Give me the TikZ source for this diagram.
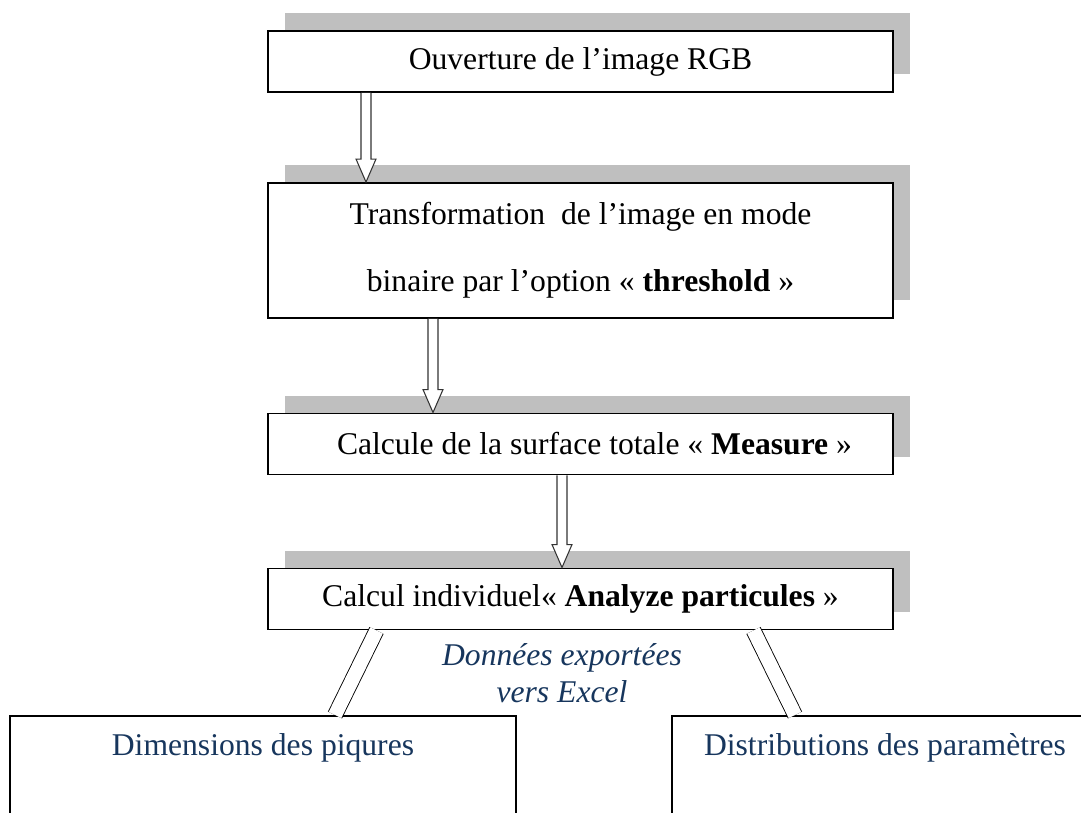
\documentclass[tikz,border=0pt]{standalone}
\usepackage{fontspec}
\setmainfont{Liberation Serif}
\usetikzlibrary{shadows,calc}
\definecolor{navy}{HTML}{17365D}

\begin{document}
\begin{tikzpicture}[nodes={font=\fontsize{18}{22}\selectfont},
    box/.style={draw,line width=1.1pt,fill=white,minimum width=12.5cm,minimum height=1.22cm,
      drop shadow={shadow xshift=0.34cm,shadow yshift=0.35cm,fill=gray!50,opacity=1}},
    bot/.style={draw,line width=1.1pt,text=navy,anchor=north,inner ysep=0.3cm,text height=0.5cm,text depth=2.5cm},
    hol/.style={line width=0.6pt,draw=black!80,fill=white,to path={let \p1=(\tikztostart),\p2=(\tikztotarget) in
      (\x1-0.1cm,\y1) -- (\x1-0.1cm,\y2+0.46cm) -- (\x1-0.2cm,\y2+0.46cm) -- (\x2,\y2)
      -- (\x1+0.2cm,\y2+0.46cm) -- (\x1+0.1cm,\y2+0.46cm) -- (\x1+0.1cm,\y1)}},
    dbl/.style={double,double distance=0.28cm,line width=0.5pt}]

      \clip (0,0) rectangle (21.62,-16.26);

      \node[box] (1) at (11.61,-1.23) {Ouverture de l’image RGB};
      \node[box,minimum height=2.7cm,align=center] (2) at (11.61,-5.01) {Transformation\ \ de l’image en mode\\[16pt]binaire par l’option « \textbf{threshold} »};
      \node[box] (3) at (11.61,-8.88) {\hspace*{0.56cm}Calcule de la surface totale « \textbf{Measure} »};
      \node[box] (4) at (11.61,-11.98) {Calcul individuel« \textbf{Analyze particules} »};
      \node[text=navy,align=center,font=\itshape\fontsize{18}{21}\selectfont] (5) at (11.24,-13.47) {Données exportées\\vers Excel};
      \node[bot,minimum width=10.12cm] (6) at (5.26,-14.3) {Dimensions des piqures};
      \node[bot,minimum width=8.52cm] (7) at (17.7,-14.3) {Distributions des paramètres};

      \draw[hol] ([xshift=-4.29cm]1.south) to ([xshift=-4.29cm]2.north);
      \draw[hol] ([xshift=-2.95cm]2.south) to ([xshift=-2.95cm]3.north);
      \draw[hol] ([xshift=-0.37cm]3.south) to ([xshift=-0.37cm]4.north);
      \draw[dbl] ([xshift=-4.08cm]4.south) -- ([xshift=1.44cm]6.north);
      \draw[dbl] ([xshift=3.46cm]4.south) -- ([xshift=-1.8cm]7.north);

    \end{tikzpicture}
\end{document}
